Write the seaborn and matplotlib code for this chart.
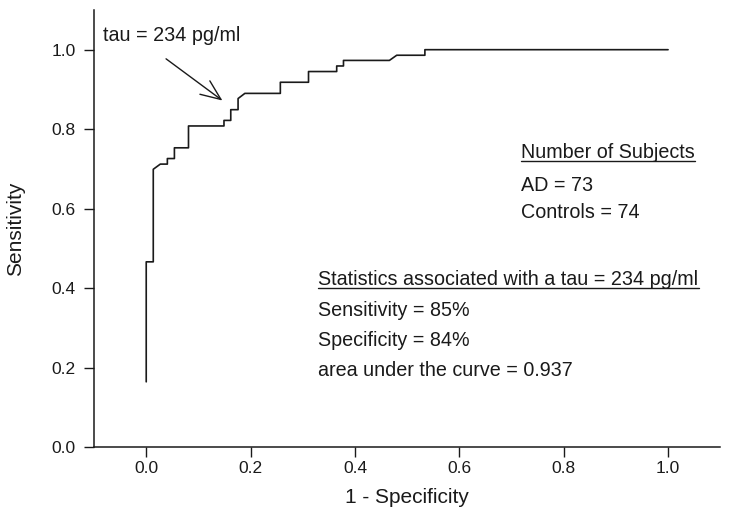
import numpy as np
import matplotlib
matplotlib.use("Agg")
import matplotlib.pyplot as plt
import seaborn as sns
import pandas as pd
from matplotlib.lines import Line2D

# ROC curve vertices (1 - specificity, sensitivity)
fpr = [0.0, 0.0, 0.0135, 0.0135, 0.027, 0.0405, 0.0405, 0.054, 0.054, 0.081,
       0.081, 0.149, 0.149, 0.162, 0.162, 0.176, 0.176, 0.189, 0.257, 0.257,
       0.311, 0.311, 0.365, 0.365, 0.378, 0.378, 0.466, 0.480, 0.534, 0.534,
       1.0]
tpr = [0.164, 0.466, 0.466, 0.699, 0.712, 0.712, 0.726, 0.726, 0.753, 0.753,
       0.808, 0.808, 0.822, 0.822, 0.849, 0.849, 0.877, 0.890, 0.890, 0.918,
       0.918, 0.945, 0.945, 0.959, 0.959, 0.973, 0.973, 0.986, 0.986, 1.0,
       1.0]

xticks = [0.0, 0.2, 0.4, 0.6, 0.8, 1.0]
yticks = [0.0, 0.2, 0.4, 0.6, 0.8, 1.0]

sns.set_style("ticks")
plt.rcParams["font.family"] = ["Liberation Sans", "DejaVu Sans"]

fig = plt.figure(figsize=(7.29, 5.24), dpi=100)
ax = fig.add_axes([0.129, 0.147, 0.859, 0.834])

df = pd.DataFrame({"fpr": fpr, "tpr": tpr})
sns.lineplot(data=df, x="fpr", y="tpr", sort=False, estimator=None,
             color="#1a1a1a", linewidth=1.2, ax=ax)

ax.set_xlim(-0.1, 1.1)
ax.set_ylim(0.0, 1.1)
ax.set_xticks(xticks)
ax.set_yticks(yticks)
ax.set_xticklabels([f"{t:.1f}" for t in xticks])
ax.set_yticklabels([f"{t:.1f}" for t in yticks])
ax.tick_params(axis="both", labelsize=12.5, length=7, width=1, color="#1a1a1a",
               labelcolor="#1a1a1a")
ax.tick_params(axis="x", pad=3)
ax.tick_params(axis="y", pad=6)
ax.set_xlabel("1 - Specificity", fontsize=15, color="#1a1a1a", labelpad=9)
ax.set_ylabel("Sensitivity", fontsize=15, color="#1a1a1a", labelpad=19)
for s in ["top", "right"]:
    ax.spines[s].set_visible(False)
for s in ["left", "bottom"]:
    ax.spines[s].set_color("#1a1a1a")
    ax.spines[s].set_linewidth(1.1)

fs = 14.2
# annotation text and arrow
ax.text(-0.083, 1.035, "tau = 234 pg/ml", fontsize=fs, color="#1a1a1a", va="center")
ax.annotate("", xy=(0.146, 0.872), xytext=(0.038, 0.977),
            arrowprops=dict(arrowstyle="->,head_length=0.6,head_width=0.25",
                            color="#1a1a1a", lw=1,
                            mutation_scale=24, shrinkA=0, shrinkB=0))

t1 = ax.text(0.718, 0.741, "Number of Subjects", fontsize=fs, color="#1a1a1a", va="center")
ax.text(0.718, 0.658, "AD = 73", fontsize=fs, color="#1a1a1a", va="center")
ax.text(0.718, 0.590, "Controls = 74", fontsize=fs, color="#1a1a1a", va="center")
t2 = ax.text(0.33, 0.422, "Statistics associated with a tau = 234 pg/ml", fontsize=fs,
             color="#1a1a1a", va="center")
ax.text(0.33, 0.344, "Sensitivity = 85%", fontsize=fs, color="#1a1a1a", va="center")
ax.text(0.33, 0.269, "Specificity = 84%", fontsize=fs, color="#1a1a1a", va="center")
ax.text(0.33, 0.193, "area under the curve = 0.937", fontsize=fs, color="#1a1a1a", va="center")

# underline the two headings
fig.canvas.draw()
renderer = fig.canvas.get_renderer()
inv = ax.transData.inverted()
for t in [t1, t2]:
    bb = t.get_window_extent(renderer)
    (x0, y0), (x1, _) = inv.transform([(bb.x0, bb.y0 + 1), (bb.x1, bb.y0 + 1)])
    ax.add_line(Line2D([x0, x1], [y0, y0], color="#1a1a1a", lw=1))

fig.savefig("out.png", dpi=100)
